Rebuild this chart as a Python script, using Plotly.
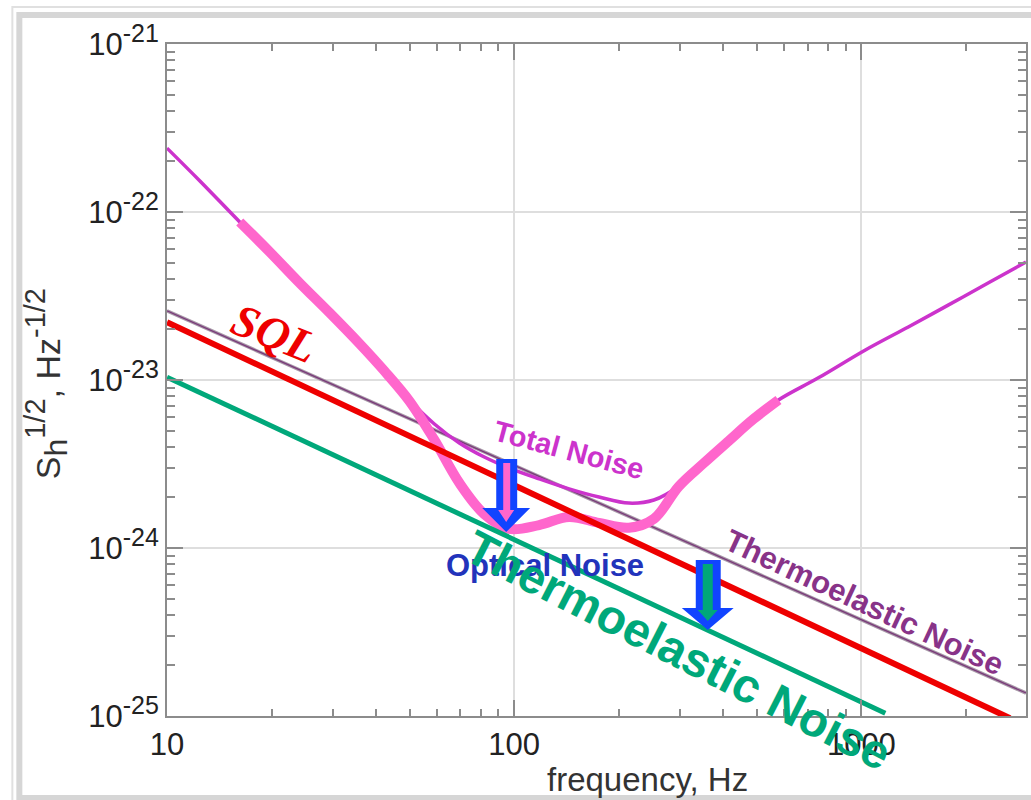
import plotly.graph_objects as go

# ---------------- data ----------------
freq_total = [10, 12.44, 16.2, 19.77, 24.1, 29.4, 35.9, 42.3, 49.9, 58.9, 69.5, 82.0, 96.8, 118, 143.9,
              175.5, 214, 252.5, 298, 351.6, 414.8, 489.5, 577, 752, 1027, 1365, 1778, 2317, 2979]
total_noise = [2.40e-22, 1.53e-22, 8.72e-23, 5.78e-23, 3.78e-23, 2.51e-23, 1.64e-23, 1.13e-23, 7.60e-24,
               5.47e-24, 4.22e-24, 3.48e-24, 2.99e-24, 2.58e-24, 2.25e-24, 2.01e-24, 1.85e-24, 1.93e-24,
               2.33e-24, 3.20e-24, 4.34e-24, 5.86e-24, 7.60e-24, 1.03e-23, 1.51e-23, 2.07e-23, 2.79e-23,
               3.78e-23, 5.04e-23]

freq_optical = [16.2, 19.77, 24.1, 29.4, 35.9, 42.3, 49.9, 58.9, 69.5, 82.0, 96.8, 118, 143.9, 175.5,
                214, 252.5, 298, 351.6, 414.8, 489.5, 577]
optical_noise = [8.72e-23, 5.78e-23, 3.78e-23, 2.51e-23, 1.64e-23, 1.13e-23, 7.50e-24, 4.40e-24, 2.44e-24,
                 1.59e-24, 1.30e-24, 1.37e-24, 1.53e-24, 1.41e-24, 1.32e-24, 1.49e-24, 2.33e-24, 3.20e-24,
                 4.34e-24, 5.86e-24, 7.60e-24]

freq_thermo = [10, 2979]
thermo_noise = [2.58e-23, 1.37e-25]

freq_sql = [10, 2680]
sql = [2.21e-23, 9.7e-26]

freq_thermo_new = [10, 1172]
thermo_noise_new = [1.04e-23, 1.04e-25]

x_tick_vals = [10, 100, 1000]
x_tick_text = ["10", "100", "1000"]
y_tick_vals = [1e-25, 1e-24, 1e-23, 1e-22, 1e-21]
y_tick_exp = ["-25", "-24", "-23", "-22", "-21"]

# ---------------- layout geometry ----------------
W, H = 1031, 800
L, R, T, B = 167, 1028, 44, 716


def px(X):
    return (X - L) / (R - L)


def py(Y):
    return (B - Y) / (B - T)


def path(points):
    return "M " + " L ".join(f"{px(a):.5f},{py(b):.5f}" for a, b in points) + " Z"


y_tick_text = [f"10<sup><span style='font-size:25px'>{e}</span></sup>" for e in y_tick_exp]

fig = go.Figure()

fig.add_trace(go.Scatter(x=freq_thermo, y=thermo_noise, mode="lines",
                         line=dict(color="#a899a8", width=3.5), hoverinfo="skip"))
fig.add_trace(go.Scatter(x=freq_thermo, y=thermo_noise, mode="lines",
                         line=dict(color="#7a3a7a", width=1.3), hoverinfo="skip"))
fig.add_trace(go.Scatter(x=freq_total, y=total_noise, mode="lines",
                         line=dict(color="#cc33cc", width=3.5, shape="spline", smoothing=1.0)))
fig.add_trace(go.Scatter(x=freq_optical, y=optical_noise, mode="lines",
                         line=dict(color="#ff66cc", width=10, shape="spline", smoothing=1.0)))
fig.add_trace(go.Scatter(x=freq_sql, y=sql, mode="lines",
                         line=dict(color="#ee0000", width=6)))
fig.add_trace(go.Scatter(x=freq_thermo_new, y=thermo_noise_new, mode="lines",
                         line=dict(color="#00a87a", width=5)))

minor_vals = [m * 10 ** k for k in range(0, 5) for m in range(2, 10)]
minor_vals_y = [m * 10.0 ** k for k in range(-26, -20) for m in range(2, 10)]

axis_common = dict(showline=True, linecolor="#8c8c8c", linewidth=2, mirror="allticks",
                   ticks="inside", ticklen=16, tickwidth=1.5, tickcolor="#8c8c8c",
                   showgrid=True, gridcolor="#dedede", gridwidth=1.5, zeroline=False,
                   tickfont=dict(family="Liberation Sans", size=31, color="#222222"))

fig.update_layout(
    width=W, height=H,
    margin=dict(l=L, r=W - R, t=T, b=H - B),
    paper_bgcolor="white", plot_bgcolor="white",
    showlegend=False,
    xaxis=dict(type="log", range=[1, 1 + (R - L) / 348], tickmode="array",
               tickvals=x_tick_vals, ticktext=x_tick_text,
               minor=dict(tickmode="array", tickvals=minor_vals, ticks="inside", ticklen=7,
                          tickcolor="#8c8c8c", tickwidth=1.5, showgrid=False),
               **axis_common),
    yaxis=dict(type="log", range=[-25, -21], tickmode="array",
               tickvals=y_tick_vals, ticktext=y_tick_text,
               minor=dict(tickmode="array", tickvals=minor_vals_y, ticks="inside", ticklen=8,
                          tickcolor="#8c8c8c", tickwidth=1.5, showgrid=False),
               **axis_common),
)

shapes = []
# image frame
shapes.append(dict(type="rect", xref="paper", yref="paper", x0=px(12), x1=px(1060), y0=py(7), y1=py(830),
                   line=dict(color="#e0e0e0", width=2), layer="above"))
shapes.append(dict(type="rect", xref="paper", yref="paper", x0=px(19), x1=px(1060), y0=py(15), y1=py(798),
                   line=dict(color="#d6d6d6", width=6), layer="above"))
# arrows
blue = "#1144ff"
shapes.append(dict(type="path", xref="paper", yref="paper", layer="above",
                   path=path([(497, 459), (518, 459), (518, 508), (531, 508), (507, 532), (483, 508), (497, 508)]),
                   fillcolor=blue, line=dict(width=0)))
shapes.append(dict(type="path", xref="paper", yref="paper", layer="above",
                   path=path([(504, 463), (511, 463), (511, 510), (515, 510), (507, 522), (499, 510), (504, 510)]),
                   fillcolor="#ff66cc", line=dict(width=0)))
shapes.append(dict(type="path", xref="paper", yref="paper", layer="above",
                   path=path([(697, 560), (722, 560), (722, 608), (735, 608), (709, 630), (683, 608), (697, 608)]),
                   fillcolor=blue, line=dict(width=0)))
shapes.append(dict(type="path", xref="paper", yref="paper", layer="above",
                   path=path([(704, 564), (714, 564), (714, 610), (719, 610), (709, 621), (699, 610), (704, 610)]),
                   fillcolor="#00a87a", line=dict(width=0)))
fig.update_layout(shapes=shapes)


def note(text, X, Y, size, color, angle=0, family="Liberation Sans"):
    fig.add_annotation(text=text, xref="paper", yref="paper", x=px(X), y=py(Y),
                       xanchor="center", yanchor="middle", showarrow=False, textangle=angle,
                       font=dict(family=family, size=size, color=color))


note("<b>Total Noise</b>", 570, 450, 29, "#cc33cc", 15)
note("<b>Optical Noise</b>", 546, 565, 31, "#2233bb", 0)
note("<b>Thermoelastic Noise</b>", 866, 602, 31, "#883388", 25)
note("<b><i>SQL</i></b>", 275, 333, 46, "#ee0000", 22, family="Liberation Serif")
note("<b>Thermoelastic Noise</b>", 680, 650, 48, "#00a87a", 27)
note("frequency, Hz", 649, 779, 33, "#333333", 0)
note("S<sub><span style='font-size:32px'>h</span></sub><sup><span style='font-size:29px'>1/2</span></sup>, "
     "Hz<sup><span style='font-size:29px'>-1/2</span></sup>", 46, 384, 34, "#333333", -90)

fig.write_html("out.html")
